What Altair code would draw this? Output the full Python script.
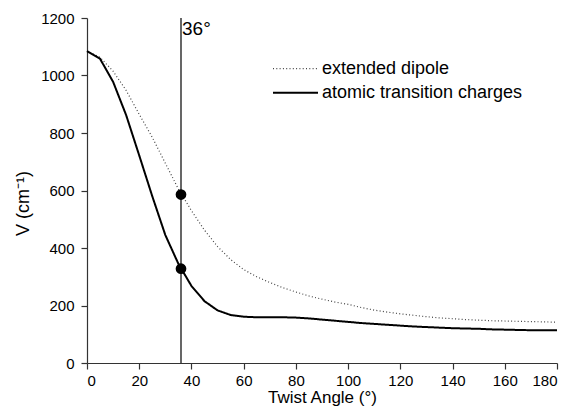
import altair as alt
import pandas as pd

# ---- data ----
angles = list(range(0, 181, 5))
atomic = [1085, 1058, 978, 862, 722, 580, 445, 345, 268, 215, 183, 167, 161, 159,
          159, 159, 158, 155, 151, 147, 143, 139, 136, 133, 130, 127, 125, 123,
          121, 120, 119, 117, 116, 115, 114, 114, 114]
dipole = [1085, 1063, 1015, 948, 865, 785, 695, 605, 530, 462, 405, 360, 325, 300,
          280, 262, 247, 233, 222, 212, 204, 193, 184, 177, 171, 166, 161, 157,
          154, 151, 149, 147, 146, 145, 144, 143, 142]
series_names = ["extended dipole", "atomic transition charges"]
marker_angle = 36
marker_values = [586, 328]
marker_label = "36°"
x_ticks = list(range(0, 181, 10))
y_ticks = list(range(0, 1201, 100))

FONT = "Liberation Sans"

df = pd.DataFrame({
    "angle": angles * 2,
    "V": dipole + atomic,
    "series": [series_names[0]] * len(angles) + [series_names[1]] * len(angles),
})

x_scale = alt.Scale(domain=[0, 180], nice=False, zero=False)
y_scale = alt.Scale(domain=[0, 1200], nice=False)

x_axis = alt.Axis(
    values=x_ticks,
    format="d",
    labelExpr="datum.value % 20 === 0 ? datum.label : ''",
    tickSize={"condition": {"test": "datum.value % 20 === 0", "value": 6}, "value": 3},
    labelPadding=4,
    title="Twist Angle (°)",
    titlePadding=1,
    titleFontSize=17,
)
y_axis = alt.Axis(
    values=y_ticks,
    format="d",
    labelExpr="datum.value % 200 === 0 ? datum.label : ''",
    tickSize={"condition": {"test": "datum.value % 200 === 0", "value": 6}, "value": 3},
    labelPadding=7,
    title="V (cm⁻¹)",
    titleX=-55,
    titleY=185,
)

legend = alt.Legend(
    orient="none", legendX=199.5, legendY=41.7, title=None,
    symbolType="M-4.5,0H4.5", symbolSize=100,
    labelFont=FONT, labelFontSize=18, labelColor="black", labelLimit=0,
    labelOffset=17.5, rowPadding=6, padding=0,
)

lines = alt.Chart(df).mark_line().encode(
    x=alt.X("angle:Q", scale=x_scale, axis=x_axis),
    y=alt.Y("V:Q", scale=y_scale, axis=y_axis),
    color=alt.Color("series:N", scale=alt.Scale(domain=series_names, range=["#444444", "#000000"]), legend=legend),
    strokeDash=alt.StrokeDash("series:N", scale=alt.Scale(domain=series_names, range=[[1, 2.3], [1, 0]]), legend=legend),
    strokeWidth=alt.StrokeWidth("series:N", scale=alt.Scale(domain=series_names, range=[1.2, 2]), legend=legend),
)

rule = alt.Chart(pd.DataFrame({"angle": [marker_angle], "lo": [0], "hi": [1200]})).mark_rule(
    color="black", strokeWidth=1.2
).encode(x="angle:Q", y="lo:Q", y2="hi:Q")

dots = alt.Chart(pd.DataFrame({"angle": [marker_angle] * 2, "V": marker_values})).mark_circle(
    color="black", opacity=1, size=115
).encode(x="angle:Q", y="V:Q")

label = alt.Chart(pd.DataFrame({"angle": [marker_angle], "V": [1200], "t": [marker_label]})).mark_text(
    align="left", baseline="top", dx=1, dy=2, fontSize=19, font=FONT, color="black"
).encode(x="angle:Q", y="V:Q", text="t:N")

chart = alt.layer(lines, rule, dots, label).properties(
    width=470, height=345,
    autosize=alt.AutoSizeParams(type="none"),
    padding={"left": 79, "top": 10, "right": 6, "bottom": 45},
).configure_view(stroke=None).configure_axis(
    grid=False,
    labelFont=FONT, titleFont=FONT,
    labelFontSize=15, titleFontSize=18,
    titleFontWeight="normal",
    labelColor="black", titleColor="black",
    domainColor="#333333", tickColor="#333333",
    domainWidth=1.2, tickWidth=1.2,
)

chart.save("out.html", embed_options={"renderer": "svg", "actions": False})
